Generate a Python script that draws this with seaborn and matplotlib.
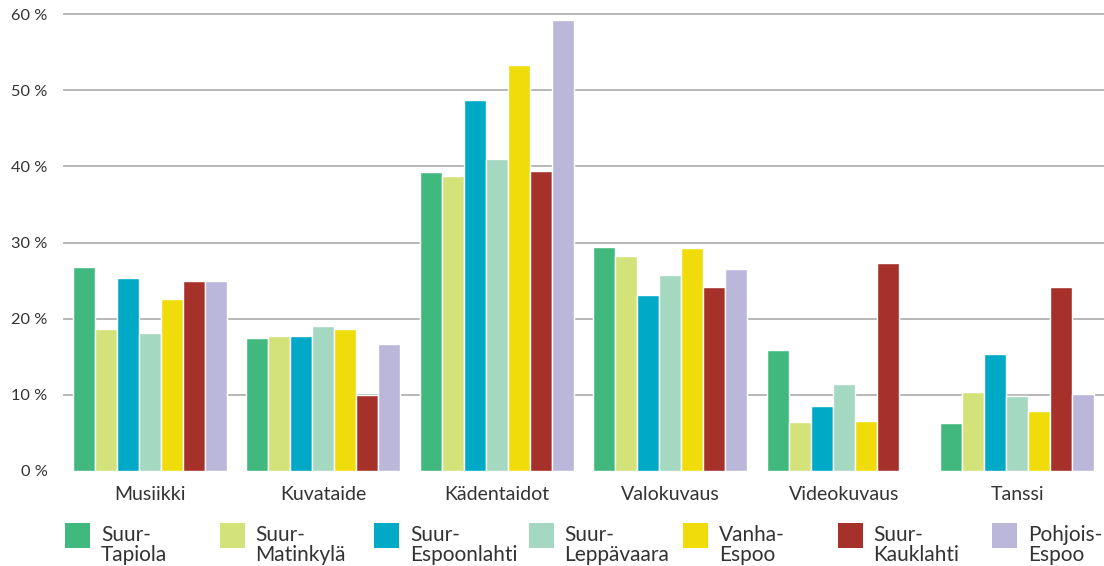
import numpy as np
import pandas as pd
import seaborn as sns
import matplotlib.pyplot as plt
from matplotlib.patches import Rectangle

categories = ["Musiikki", "Kuvataide", "Kädentaidot", "Valokuvaus", "Videokuvaus", "Tanssi"]
areas = ["Suur-\nTapiola", "Suur-\nMatinkylä", "Suur-\nEspoonlahti", "Suur-\nLeppävaara",
         "Vanha-\nEspoo", "Suur-\nKauklahti", "Pohjois-\nEspoo"]
colors = ["#41b97e", "#d4e27a", "#00a9c6", "#a4d8c0", "#f1dc0b", "#a6312a", "#bbb7da"]

# share of respondents (%) per hobby, one list per area
suur_tapiola = [26.8, 17.5, 39.3, 29.4, 15.9, 6.3]
suur_matinkyla = [18.6, 17.7, 38.7, 28.2, 6.4, 10.4]
suur_espoonlahti = [25.3, 17.7, 48.7, 23.1, 8.5, 15.4]
suur_leppavaara = [18.1, 19.0, 41.0, 25.7, 11.4, 9.8]
vanha_espoo = [22.6, 18.6, 53.3, 29.3, 6.6, 7.9]
suur_kauklahti = [24.9, 10.0, 39.4, 24.2, 27.3, 24.2]
pohjois_espoo = [24.9, 16.7, 59.2, 26.5, 0.0, 10.1]

values = [suur_tapiola, suur_matinkyla, suur_espoonlahti, suur_leppavaara,
          vanha_espoo, suur_kauklahti, pohjois_espoo]

rows = []
for area, vals in zip(areas, values):
    for cat, v in zip(categories, vals):
        rows.append({"category": cat, "area": area, "value": v})
df = pd.DataFrame(rows)

sns.set_style("white")
plt.rcParams['font.family'] = ['Lato', 'DejaVu Sans']
text_color = "#333333"

W, H = 1104, 566
fig = plt.figure(figsize=(W / 100, H / 100), dpi=100)
ax = fig.add_axes([63 / W, 95 / H, 1041 / W, 461 / H])

sns.barplot(data=df, x="category", y="value", hue="area", hue_order=areas,
            order=categories, palette=colors, saturation=1, width=0.89,
            edgecolor="white", linewidth=1, legend=False, ax=ax)

ax.set_ylim(0, 60 * 461 / 457)
ax.set_xlim(-0.5, 5.5)
ax.set_yticks(range(0, 61, 10))
ax.set_yticklabels([f"{v} %" for v in range(0, 61, 10)])
ax.grid(axis="y", color="#ababab", linewidth=1.2)
ax.set_axisbelow(True)
ax.yaxis.get_gridlines()[0].set_visible(False)
for s in ax.spines.values():
    s.set_visible(False)
ax.tick_params(axis="y", length=0, pad=11, labelsize=11.8, labelcolor=text_color)
ax.tick_params(axis="x", length=0, pad=11, labelsize=14, labelcolor=text_color)
ax.set_xlabel("")
ax.set_ylabel("")

# legend: evenly spaced square swatches with two-line labels
for i, (area, c) in enumerate(zip(areas, colors)):
    x0 = 65 + 154.5 * i
    fig.add_artist(Rectangle((x0 / W, 1 - 548 / H), 25 / W, 25 / H,
                             transform=fig.transFigure, facecolor=c, edgecolor="none"))
    fig.text((x0 + 36) / W, 1 - 561 / H, area, fontsize=15, color=text_color,
             ha="left", va="baseline", linespacing=1.0)

fig.savefig("out.png", dpi=100)
